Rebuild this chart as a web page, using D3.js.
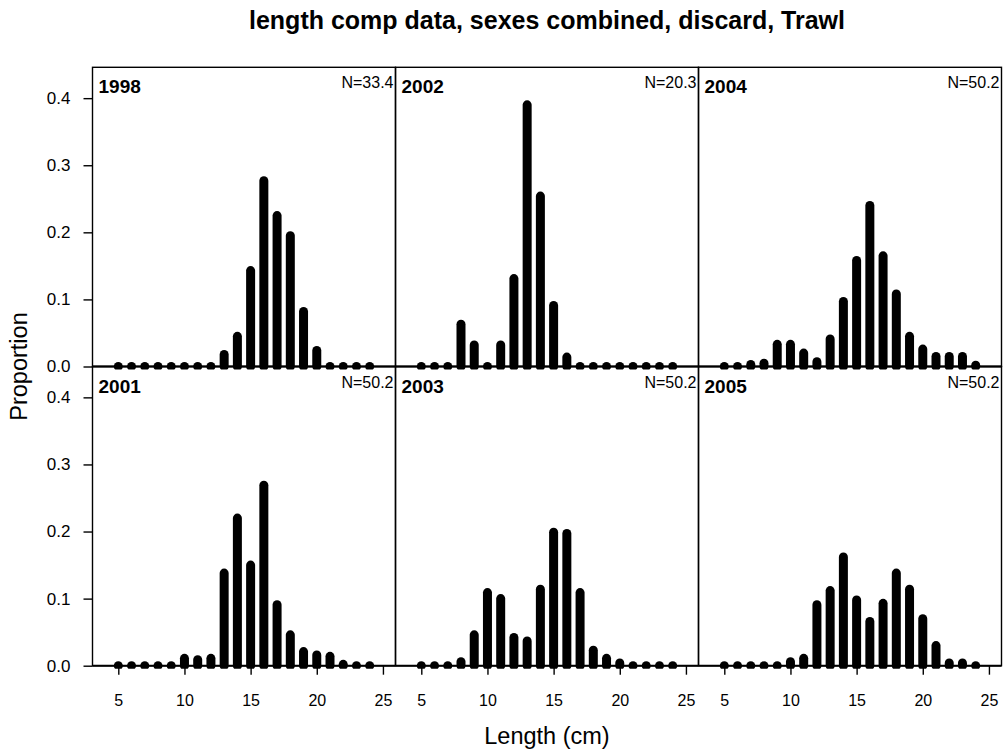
<!DOCTYPE html>
<meta charset="utf-8">
<style>
    body { margin: 0; background: #fff; }
    svg text { font-family: "Liberation Sans", Arial, sans-serif; fill: #000; }
    .frame { fill: none; stroke: #000; stroke-width: 1.4px; }
    .base { stroke: #000; stroke-width: 2px; }
    .bar { stroke: #000; stroke-width: 9px; stroke-linecap: round; }
    .tick line { stroke: #000; stroke-width: 1.4px; }
</style>
<svg width="1008" height="754"></svg>
<script src="https://d3js.org/d3.v7.min.js"></script>
<script>

    // length bins (cm)
    var lengths = [5, 6, 7, 8, 9, 10, 11, 12, 13, 14, 15, 16, 17, 18, 19, 20, 21, 22, 23, 24];

    // panels in column order
    var years = ["1998", "2001", "2002", "2003", "2004", "2005"];
    var nLabels = ["N=33.4", "N=50.2", "N=20.3", "N=50.2", "N=50.2", "N=50.2"];

    var p1998 = [0, 0, 0, 0, 0, 0, 0, 0, 0.018, 0.045, 0.143, 0.277, 0.225, 0.195, 0.082, 0.024, 0, 0, 0, 0];
    var p2001 = [0, 0, 0, 0, 0, 0.011, 0.009, 0.011, 0.138, 0.22, 0.15, 0.269, 0.091, 0.046, 0.021, 0.016, 0.014, 0.002, 0, 0];
    var p2002 = [0, 0, 0, 0.063, 0.032, 0, 0.032, 0.131, 0.39, 0.254, 0.091, 0.014, 0, 0, 0, 0, 0, 0, 0, 0];
    var p2003 = [0, 0, 0, 0.006, 0.046, 0.109, 0.1, 0.042, 0.037, 0.114, 0.199, 0.197, 0.109, 0.023, 0.011, 0.004, 0, 0, 0, 0];
    var p2004 = [0, 0, 0.003, 0.005, 0.033, 0.033, 0.02, 0.007, 0.041, 0.097, 0.158, 0.24, 0.165, 0.108, 0.045, 0.026, 0.015, 0.015, 0.015, 0.002];
    var p2005 = [0, 0, 0, 0, 0, 0.006, 0.011, 0.091, 0.112, 0.162, 0.098, 0.066, 0.093, 0.138, 0.114, 0.07, 0.03, 0.004, 0.004, 0];

    var xTicks = [5, 10, 15, 20, 25];
    var yTicks = [0, 0.1, 0.2, 0.3, 0.4];

    var series = [p1998, p2001, p2002, p2003, p2004, p2005];

    var svg = d3.select("svg"),
        plotLeft = 92.5, plotTop = 67.3,
        pw = 303, ph = 299.2;

    var x = d3.scaleLinear().domain([3.05, 25.95]).range([0, pw]);
    var y = d3.scaleLinear().domain([0, 0.446]).range([ph, 0]);
    var fmt = d3.format(".1f");

    series.forEach(function (vals, i) {
        var col = Math.floor(i / 2), row = i % 2;
        var g = svg.append("g")
            .attr("transform", "translate(" + (plotLeft + col * pw) + "," + (plotTop + row * ph) + ")");

        // bars are clipped a little below the zero line, as in the original
        g.append("clipPath").attr("id", "clip" + i)
            .append("rect").attr("width", pw).attr("height", ph + 3);

        g.append("g").attr("clip-path", "url(#clip" + i + ")")
            .selectAll("path")
            .data(lengths)
            .enter().append("path")
            .attr("class", "bar")
            .attr("d", function (d, j) {
                return "M" + x(d) + "," + y(0) + "L" + x(d) + "," + y(vals[j]);
            });

        g.append("rect").attr("class", "frame").attr("width", pw).attr("height", ph);
        g.append("line").attr("class", "base")
            .attr("x1", 0).attr("x2", pw).attr("y1", y(0)).attr("y2", y(0));

        g.append("text")
            .attr("x", 6).attr("y", 26)
            .style("font-weight", "bold").style("font-size", "19px")
            .text(years[i]);

        g.append("text")
            .attr("x", pw - 2).attr("y", 21)
            .attr("text-anchor", "end")
            .style("font-size", "16px")
            .text(nLabels[i]);

        if (col === 0) {
            var ya = g.append("g")
                .call(d3.axisLeft(y).tickValues(yTicks).tickFormat(fmt).tickSize(9).tickPadding(13));
            ya.select(".domain").remove();
            ya.attr("font-family", null).attr("font-size", null);
            ya.selectAll("text").style("font-size", "17px");
        }
        if (row === 1) {
            var xa = g.append("g")
                .attr("transform", "translate(0," + ph + ")")
                .call(d3.axisBottom(x).tickValues(xTicks).tickSize(9).tickPadding(20));
            xa.select(".domain").remove();
            xa.attr("font-family", null).attr("font-size", null);
            xa.selectAll("text").style("font-size", "16px");
        }
    });

    svg.append("text")
        .attr("x", plotLeft + 1.5 * pw).attr("y", 29)
        .attr("text-anchor", "middle")
        .style("font-weight", "bold").style("font-size", "25px")
        .text("length comp data, sexes combined, discard, Trawl");

    svg.append("text")
        .attr("x", plotLeft + 1.5 * pw).attr("y", 744)
        .attr("text-anchor", "middle")
        .style("font-size", "23.5px")
        .text("Length (cm)");

    svg.append("text")
        .attr("transform", "translate(27," + (plotTop + ph) + ") rotate(-90)")
        .attr("text-anchor", "middle")
        .style("font-size", "23.5px")
        .text("Proportion");

</script>
